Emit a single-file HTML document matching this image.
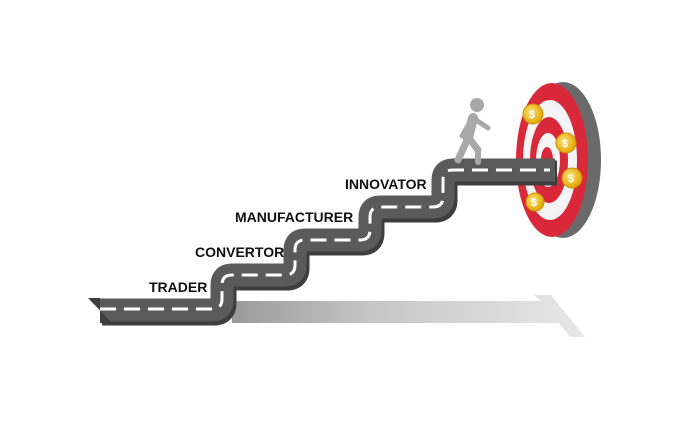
<!DOCTYPE html>
<html><head><style>
html,body{margin:0;padding:0;background:#fff;}
svg{display:block;}
text{font-family:"Liberation Sans",sans-serif;font-weight:bold;font-size:14px;fill:#111;}
</style></head><body>
<svg width="700" height="431" viewBox="0 0 700 431">
<defs>
<linearGradient id="sh" x1="0" x2="1" y1="0" y2="0">
<stop offset="0" stop-color="#9a9a9a"/><stop offset="0.4" stop-color="#c6c6c6"/><stop offset="1" stop-color="#e8e8e8"/>
</linearGradient>
<radialGradient id="coin" cx="0.4" cy="0.4" r="0.6">
<stop offset="0" stop-color="#ffe27a"/><stop offset="1" stop-color="#e0a800"/>
</radialGradient>
</defs>
<!-- shadow arrow -->
<polygon points="232,301 541,301 534,295 551,295 585,337 570,337 559,323 232,323" fill="url(#sh)"/>
<!-- target rim -->
<ellipse cx="563" cy="160" rx="38" ry="78" fill="#6a6a6a"/>
<ellipse cx="552" cy="160" rx="36" ry="77" fill="#d8283a"/>
<ellipse cx="550" cy="160" rx="27" ry="60" fill="#f4f4f4"/>
<ellipse cx="549" cy="160" rx="19" ry="43" fill="#d8283a"/>
<ellipse cx="548" cy="160" rx="12" ry="27" fill="#f4f4f4"/>
<ellipse cx="547" cy="160" rx="6" ry="13" fill="#d8283a"/>
<!-- road -->
<path d="M100,310 L212,310 Q222,310 222,300 L222,285 Q222,275 232,275 L285,275 Q295,275 295,265 L295,250 Q295,240 305,240 L360,240 Q370,240 370,230 L370,217 Q370,207 380,207 L433,207 Q443,207 443,197 L443,180 Q443,170 453,170 L555,170" fill="none" stroke="#3e3e3e" stroke-width="25" transform="translate(2,3)"/>
<path d="M100,310 L212,310 Q222,310 222,300 L222,285 Q222,275 232,275 L285,275 Q295,275 295,265 L295,250 Q295,240 305,240 L360,240 Q370,240 370,230 L370,217 Q370,207 380,207 L433,207 Q443,207 443,197 L443,180 Q443,170 453,170 L555,170" fill="none" stroke="#5a5a5a" stroke-width="23"/>
<polygon points="88,298 100,298 100,323 112,323" fill="#3e3e3e"/>
<path d="M100,309 L212,309 Q222,309 222,299 L222,285 Q222,275 232,275 L285,275 Q295,275 295,265 L295,250 Q295,240 305,240 L360,240 Q370,240 370,230 L370,217 Q370,207 380,207 L433,207 Q443,207 443,197 L443,180 Q443,170 453,170 L550,170" fill="none" stroke="#fff" stroke-width="3" stroke-dasharray="16 8"/>
<!-- coins -->
<g fill="url(#coin)" stroke="#c98f00" stroke-width="1">
<circle cx="533" cy="114" r="10"/><circle cx="566" cy="143" r="10"/><circle cx="572" cy="178" r="10"/><circle cx="535" cy="202" r="9"/>
</g>
<text x="529" y="118" style="font-size:11px;fill:#fff">$</text><text x="562" y="147" style="font-size:11px;fill:#fff">$</text><text x="568" y="182" style="font-size:11px;fill:#fff">$</text><text x="531" y="206" style="font-size:11px;fill:#fff">$</text>
<!-- person -->
<g fill="#a8a8a8" stroke="#a8a8a8" stroke-linecap="round">
<circle cx="477" cy="105" r="7" stroke="none"/>
<line x1="473" y1="118" x2="468" y2="138" stroke-width="10"/>
<line x1="468" y1="138" x2="458" y2="160" stroke-width="7"/>
<line x1="469" y1="138" x2="478" y2="150" stroke-width="7"/>
<line x1="478" y1="150" x2="478" y2="162" stroke-width="6"/>
<line x1="476" y1="120" x2="488" y2="128" stroke-width="5"/>
<line x1="470" y1="122" x2="462" y2="136" stroke-width="5"/>
</g>
<!-- labels -->
<text x="149" y="292">TRADER</text>
<text x="195" y="257">CONVERTOR</text>
<text x="235" y="222">MANUFACTURER</text>
<text x="345" y="189">INNOVATOR</text>
</svg>
</body></html>
